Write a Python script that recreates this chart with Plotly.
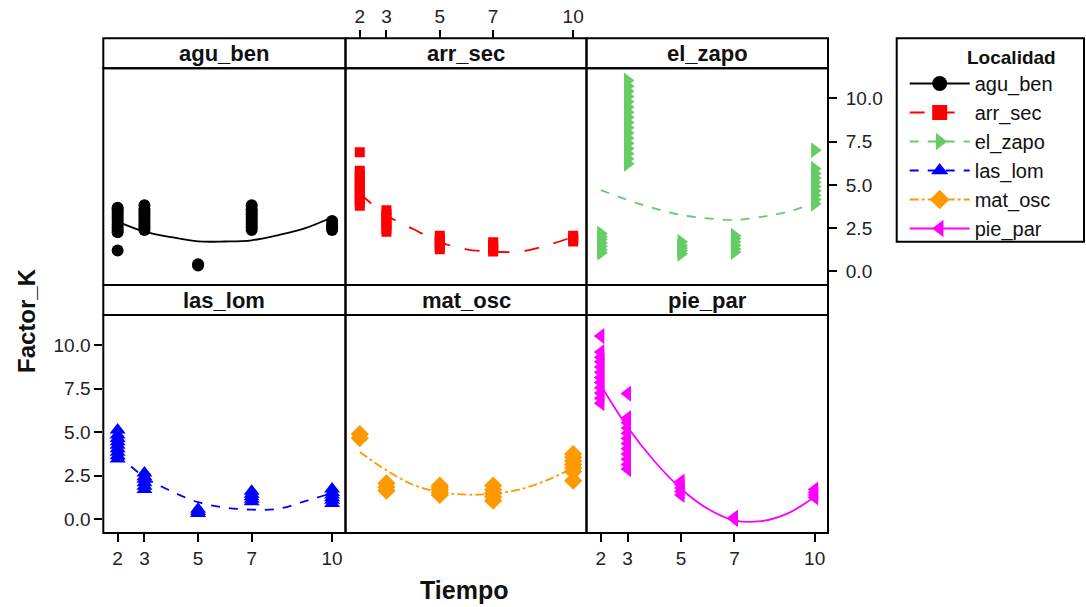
import plotly.graph_objects as go

# ---------------- data ----------------
localidades = ["agu_ben", "arr_sec", "el_zapo", "las_lom", "mat_osc", "pie_par"]
tiempo_ticks = [2, 3, 5, 7, 10]
factor_ticks = [0, 2.5, 5, 7.5, 10]

# observed Factor_K per Tiempo, one small dict per locality
agu_ben_obs = {2: [1.21, 2.27, 2.40, 2.55, 2.70, 2.85, 3.00, 3.15, 3.30, 3.45, 3.60, 3.68],
               3: [2.40, 2.55, 2.70, 2.85, 3.00, 3.15, 3.30, 3.45, 3.60, 3.82],
               5: [0.35, 0.42],
               7: [2.40, 2.55, 2.70, 2.85, 3.00, 3.15, 3.30, 3.45, 3.60, 3.82],
               10: [2.40, 2.55, 2.70, 2.92]}
arr_sec_obs = {2: [3.80, 4.00, 4.20, 4.40, 4.60, 4.80, 5.00, 5.20, 5.40, 5.60, 5.81, 6.89],
               3: [2.30, 2.50, 2.70, 2.90, 3.10, 3.30, 3.53],
               5: [1.29, 1.45, 1.60, 1.75, 1.90, 2.06],
               7: [1.15, 1.30, 1.45, 1.55, 1.69],
               10: [1.73, 1.85, 1.95, 2.06]}
el_zapo_obs = {2: [1.08, 1.25, 1.45, 1.65, 1.85, 2.00, 2.19],
               3: [6.22, 6.50, 6.80, 7.10, 7.40, 7.70, 8.00, 8.30, 8.60, 8.90, 9.20,
                   9.50, 9.80, 10.10, 10.40, 10.70, 11.02],
               5: [1.02, 1.20, 1.35, 1.50, 1.71],
               7: [1.13, 1.30, 1.50, 1.70, 1.90, 2.06],
               10: [3.91, 4.15, 4.40, 4.65, 4.90, 5.15, 5.40, 5.65, 5.93, 7.00]}
las_lom_obs = {2: [3.47, 3.65, 3.85, 4.05, 4.25, 4.45, 4.65, 4.85, 5.13],
               3: [1.72, 1.90, 2.10, 2.30, 2.45, 2.66],
               5: [0.34, 0.45, 0.59],
               7: [1.02, 1.15, 1.30, 1.45, 1.61],
               10: [0.92, 1.10, 1.25, 1.40, 1.55, 1.74]}
mat_osc_obs = {2: [4.66, 4.90],
               3: [1.65, 1.85, 2.07],
               5: [1.40, 1.55, 1.70, 1.82, 1.94],
               7: [1.07, 1.30, 1.50, 1.70, 1.94],
               10: [2.22, 2.75, 2.95, 3.15, 3.35, 3.55, 3.75]}
pie_par_obs = {2: [6.67, 6.95, 7.25, 7.55, 7.85, 8.15, 8.45, 8.75, 9.05, 9.30, 9.60, 10.52],
               3: [2.89, 3.15, 3.45, 3.75, 4.05, 4.35, 4.65, 4.95, 5.25, 5.55, 5.82, 7.22],
               5: [1.40, 1.60, 1.80, 2.00, 2.17],
               7: [0.02, 0.06, 0.11],
               10: [1.26, 1.40, 1.55, 1.71]}

# smoothed (loess-like) curves
tiempo_fit = [2, 3, 4, 5, 6, 7, 8, 9, 10]
agu_ben_fit = [2.88, 2.30, 1.98, 1.74, 1.73, 1.80, 2.10, 2.50, 3.13]
arr_sec_fit = [4.50, 3.25, 2.45, 1.70, 1.28, 1.15, 1.15, 1.50, 2.00]
el_zapo_fit = [4.70, 4.13, 3.65, 3.26, 3.07, 2.98, 3.15, 3.45, 3.94]
las_lom_fit = [3.74, 2.43, 1.62, 0.99, 0.68, 0.56, 0.61, 1.05, 1.51]
mat_osc_fit = [3.87, 2.82, 1.99, 1.57, 1.42, 1.48, 1.72, 2.24, 2.95]
pie_par_fit = [7.70, 5.30, 3.35, 1.76, 0.61, -0.06, -0.10, 0.35, 1.28]

# ---------------- styles ----------------
colors = ["#000000", "#FF0000", "#66CC66", "#0000FF", "#FF9900", "#FF00FF"]
symbols = ["circle", "square", "triangle-right", "triangle-up", "diamond", "triangle-left"]
msizes = [12, 10, 14, 14, 14, 14]
dashes = ["solid", "longdash", "dash", "dash", "dashdot", "solid"]
obs_all = [agu_ben_obs, arr_sec_obs, el_zapo_obs, las_lom_obs, mat_osc_obs, pie_par_obs]
fit_all = [agu_ben_fit, arr_sec_fit, el_zapo_fit, las_lom_fit, mat_osc_fit, pie_par_fit]

W, H = 1086, 607
FONT = "Liberation Sans, Arial, sans-serif"
col_px = [(103.3, 345.5), (345.5, 586.5), (586.5, 828.0)]
row_strip_px = [(38.3, 68.3), (285.0, 315.0)]
row_panel_px = [(68.3, 285.0), (315.0, 533.0)]
legend_box_px = (896.7, 38.3, 1084.0, 241.7)
XR = [1.465, 10.5]
YR = [-0.78, 11.73]


def fx(px):
    return px / W


def fy(py):
    return 1 - py / H


fig = go.Figure()

for i, loc in enumerate(localidades):
    ax = "" if i == 0 else str(i + 1)
    xs, ys = [], []
    for t, vals in obs_all[i].items():
        xs += [t] * len(vals)
        ys += vals
    fig.add_trace(go.Scatter(
        x=xs, y=ys, mode="markers", xaxis="x" + ax, yaxis="y" + ax,
        marker=dict(symbol=symbols[i], size=msizes[i], color=colors[i], line=dict(width=0)),
        showlegend=False, hoverinfo="skip"))
    fig.add_trace(go.Scatter(
        x=tiempo_fit, y=fit_all[i], mode="lines", xaxis="x" + ax, yaxis="y" + ax,
        line=dict(color=colors[i], width=1.8, dash=dashes[i], shape="spline", smoothing=1.0),
        showlegend=False, hoverinfo="skip"))

# legend-only entries (line + marker)
for i, loc in enumerate(localidades):
    fig.add_trace(go.Scatter(
        x=[None], y=[None], mode="lines+markers", name=loc,
        marker=dict(symbol=symbols[i], size=15, color=colors[i]),
        line=dict(color=colors[i], width=2, dash=dashes[i])))

tick_font = dict(family=FONT, size=19, color="#222222")
layout = dict(
    width=W, height=H, margin=dict(l=0, r=0, t=0, b=0),
    paper_bgcolor="white", plot_bgcolor="white",
    showlegend=True,
    legend=dict(
        x=fx(legend_box_px[0] + 8), y=fy(legend_box_px[1] + 1), xanchor="left", yanchor="top",
        borderwidth=0, bgcolor="rgba(0,0,0,0)",
        font=dict(family=FONT, size=20, color="#111111"),
        title=dict(text="<b>Localidad</b>", font=dict(family=FONT, size=19, color="#111111"),
                   side="top right"),
        itemwidth=60, tracegroupgap=0),
)

shapes = []
annotations = []
for i, loc in enumerate(localidades):
    r, c = divmod(i, 3)
    ax = "" if i == 0 else str(i + 1)
    xname = "xaxis" + ax
    yname = "yaxis" + ax
    xdom = [fx(col_px[c][0]), fx(col_px[c][1])]
    ydom = [fy(row_panel_px[r][1]), fy(row_panel_px[r][0])]
    xa = dict(domain=xdom, range=XR, anchor="y" + ax, showgrid=False, zeroline=False,
              showline=False, tickvals=tiempo_ticks, ticks="", showticklabels=False,
              tickfont=tick_font, ticklen=8, tickwidth=2, tickcolor="black")
    ya = dict(domain=ydom, range=YR, anchor="x" + ax, showgrid=False, zeroline=False,
              showline=False, tickvals=factor_ticks, ticks="", showticklabels=False,
              tickformat=".1f", tickfont=tick_font, ticklen=8, tickwidth=2, tickcolor="black")
    if i == 1:  # top axis above the strip
        xa.update(anchor="free", position=fy(row_strip_px[0][0]), side="top",
                  ticks="outside", showticklabels=True)
    if i in (3, 5):
        xa.update(ticks="outside", showticklabels=True, side="bottom")
    if i == 2:
        ya.update(side="right", ticks="outside", showticklabels=True, ticklabelstandoff=5)
    if i == 3:
        ya.update(side="left", ticks="outside", showticklabels=True)
    layout[xname] = xa
    layout[yname] = ya

    # panel + strip frames
    for (y0, y1) in (row_strip_px[r], row_panel_px[r]):
        shapes.append(dict(type="rect", xref="paper", yref="paper",
                           x0=fx(col_px[c][0]), x1=fx(col_px[c][1]),
                           y0=fy(y1), y1=fy(y0), line=dict(color="black", width=2),
                           layer="above"))
    annotations.append(dict(
        text="<b>%s</b>" % loc, xref="paper", yref="paper",
        x=fx((col_px[c][0] + col_px[c][1]) / 2), y=fy(sum(row_strip_px[r]) / 2),
        xanchor="center", yanchor="middle", showarrow=False,
        font=dict(family=FONT, size=22, color="#111111")))

# legend frame
shapes.append(dict(type="rect", xref="paper", yref="paper",
                   x0=fx(legend_box_px[0]), x1=fx(legend_box_px[2]),
                   y0=fy(legend_box_px[3]), y1=fy(legend_box_px[1]),
                   line=dict(color="black", width=2), layer="below"))

annotations.append(dict(text="<b>Tiempo</b>", xref="paper", yref="paper",
                        x=fx(464), y=fy(590), xanchor="center", yanchor="middle",
                        showarrow=False, font=dict(family=FONT, size=25, color="#111111")))
annotations.append(dict(text="<b>Factor_K</b>", xref="paper", yref="paper",
                        x=fx(27), y=fy(321), xanchor="center", yanchor="middle",
                        textangle=-90, showarrow=False,
                        font=dict(family=FONT, size=24, color="#111111")))

layout["shapes"] = shapes
layout["annotations"] = annotations
fig.update_layout(**layout)
fig.write_html("out.html", config={"displayModeBar": False},
               post_script="document.body.style.margin='0';document.body.style.overflow='hidden';")
